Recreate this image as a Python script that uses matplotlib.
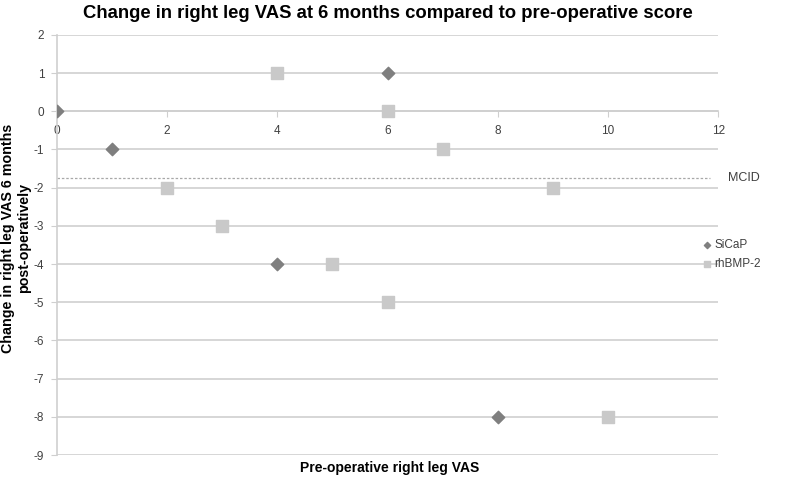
import matplotlib

matplotlib.use("Agg")
import matplotlib.pyplot as plt

plt.rcParams["font.family"] = ["Liberation Sans", "DejaVu Sans"]
plt.rcParams["axes.unicode_minus"] = False

# SiCaP series (diamonds)
sicap_x = [0, 1, 4, 6, 8]
sicap_y = [0, -1, -4, 1, -8]
# rhBMP-2 series (squares)
bmp_x = [2, 3, 4, 5, 6, 6, 7, 9, 10]
bmp_y = [-2, -3, 1, -4, 0, -5, -1, -2, -8]
mcid = -1.75
x_ticks = [0, 2, 4, 6, 8, 10, 12]
y_ticks = list(range(-9, 3))

fig = plt.figure(figsize=(8, 4.78), dpi=100)
ax = fig.add_axes([0.071, 0.048, 0.827, 0.879])

grid_c = "#cfcfcf"
for y in y_ticks:
    ax.axhline(y, color=grid_c, lw=1.2, zorder=1)
ax.plot([0, 11.85], [mcid, mcid], ls=(0, (2, 1.5)), color="#a8a8a8", lw=0.9, zorder=2)
ax.text(12.18, mcid, "MCID", va="center", ha="left", fontsize=9, color="#404040")

ax.scatter(sicap_x, sicap_y, marker="D", s=40, color="#7f7f7f", zorder=3, label="SiCaP")
ax.scatter(bmp_x, bmp_y, marker="s", s=85, color="#c9c9c9", zorder=3, label="rhBMP-2")

ax.set_xlim(0, 12)
ax.set_ylim(-9, 2)
ax.set_xticks(x_ticks)
ax.set_yticks(y_ticks)
for s in ("top", "right"):
    ax.spines[s].set_visible(False)
ax.spines["bottom"].set_position(("data", 0))
ax.spines["bottom"].set_color(grid_c)
ax.spines["bottom"].set_linewidth(1.2)
ax.spines["left"].set_color(grid_c)
ax.spines["left"].set_linewidth(1.2)
ax.spines["bottom"].set_zorder(1)
ax.tick_params(axis="x", direction="out", length=4, color=grid_c, labelsize=8.5, labelcolor="#404040", pad=6)
ax.tick_params(axis="y", direction="out", length=4, color=grid_c, labelsize=8.5, labelcolor="#404040", pad=5)

ax.set_title("Change in right leg VAS at 6 months compared to pre-operative score",
             fontsize=13.3, fontweight="bold", pad=12)
fig.text(0.487, 0.02, "Pre-operative right leg VAS", ha="center", va="center",
         fontsize=10, fontweight="bold")
fig.text(0.02, 0.502, "Change in right leg VAS 6 months\npost-operatively", ha="center",
         va="center", rotation=90, fontsize=10.3, fontweight="bold", linespacing=1.1)

fig.legend(loc="center left", bbox_to_anchor=(0.866, 0.468), frameon=False, fontsize=8.5,
           handletextpad=0.3, markerscale=0.5, labelcolor="#404040", handlelength=0.6,
           labelspacing=0.6)

fig.savefig("out.png", dpi=100)
